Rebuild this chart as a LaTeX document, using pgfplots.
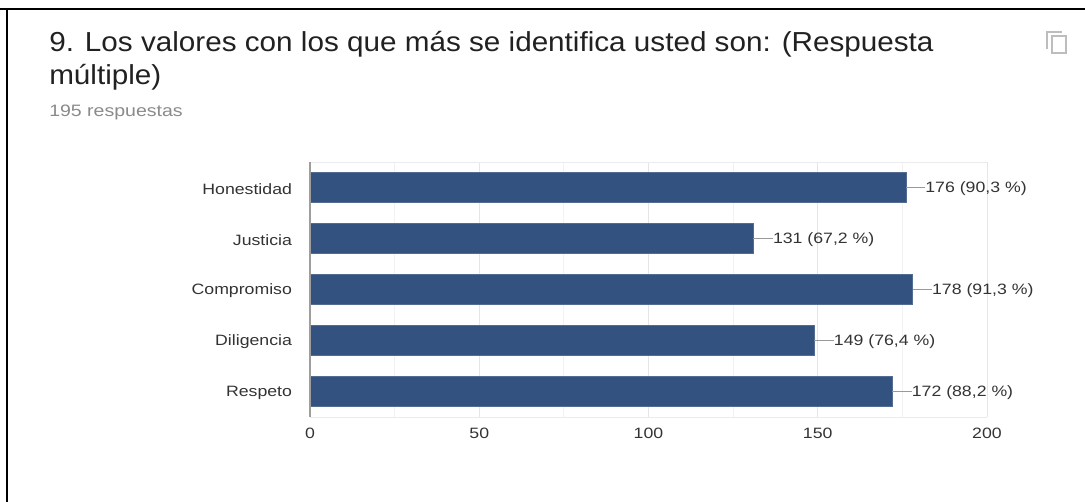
\documentclass[border=0pt]{standalone}
\usepackage{fontspec}
\setmainfont[FakeStretch=1.18]{Liberation Sans}
\newfontfamily\titlefont[FakeStretch=1.08]{Liberation Sans}
\usepackage{pgfplots}
\pgfplotsset{compat=1.18}
\definecolor{barblue}{HTML}{34527F}
\definecolor{labtext}{HTML}{333333}
\definecolor{titletext}{HTML}{212121}
\definecolor{subtext}{HTML}{8A8A8A}
\definecolor{iconcol}{HTML}{BDBDBD}
\begin{document}
\begin{tikzpicture}[x=0.75pt,y=0.75pt]
	\useasboundingbox (0,0) rectangle (1085,502);
	% frame, top and left only
	\draw[black,line width=1.2pt] (0,493) -- (7,493) -- (1085,493);
	\draw[black,line width=1.2pt] (7,493) -- (7,0);
	% title block
	\node[anchor=base west,inner sep=0pt,text=titletext,font=\titlefont\fontsize{20.6pt}{24pt}\selectfont] at (49,450) {9. Los valores con los que más se identifica usted son: (Respuesta};
	\node[anchor=base west,inner sep=0pt,text=titletext,font=\titlefont\fontsize{20.6pt}{24pt}\selectfont] at (49,417) {múltiple)};
	\node[anchor=base west,inner sep=0pt,text=subtext,font=\fontsize{12.4pt}{14pt}\selectfont] at (49,385) {195 respuestas};
	% copy icon
	\draw[iconcol,line width=1.8pt] (1052,466) rectangle (1066,449);
	\draw[iconcol,line width=1.8pt] (1047,453) -- (1047,470) -- (1062,470);
	\begin{axis}[
		at={(232.5pt,63.75pt)}, anchor=south west,
		scale only axis,
		width=507.75pt, height=191.25pt,
		bar width=22.9pt,
		xmin=0, xmax=200,
		ymin=-0.5, ymax=4.5, y dir=reverse,
		ytick={0,1,2,3,4},
		yticklabels={Honestidad,Justicia,Compromiso,Diligencia,Respeto},
		xtick={0,50,100,150,200},
		minor x tick num=1,
		xmajorgrids=true, xminorgrids=true,
		major x grid style={draw=black!10,line width=0.7pt},
		minor x grid style={draw=black!5,line width=0.7pt},
		separate axis lines,
		axis x line=box, axis y line*=left,
		x axis line style={draw=black!8,-},
		y axis line style={draw=none},
		major tick length=0pt, minor tick length=0pt,
		/pgf/number format/assume math mode=true,
		tick label style={text=labtext,font=\fontsize{11.25pt}{13pt}\selectfont},
		yticklabel style={xshift=-10pt,yshift=-1pt},
		xticklabel style={yshift=-4.5pt},
		clip=false,
		]
		\addplot[xbar,bar shift=0pt,fill=barblue,draw=barblue!85!white,line width=0.4pt,
			nodes near coords,
			point meta=explicit symbolic,
			every node near coord/.append style={anchor=west,xshift=14.5pt,yshift=-0.8pt,inner sep=0pt,text=labtext,font=\fontsize{11.25pt}{13pt}\selectfont},
			error bars/.cd, x dir=plus, x fixed=5.7, error mark=none,
			error bar style={draw=black!40,line width=0.8pt}]
			coordinates {
			(176,0) [176 (90,3 \%)]
			(131,1) [131 (67,2 \%)]
			(178,2) [178 (91,3 \%)]
			(149,3) [149 (76,4 \%)]
			(172,4) [172 (88,2 \%)]
		};
		% baseline over the bar ends
		\addplot[sharp plot,no marks,draw=black!38,line width=2.2pt,forget plot]
			coordinates {(0,-0.5) (0,4.5)};
	\end{axis}
\end{tikzpicture}
\end{document}
